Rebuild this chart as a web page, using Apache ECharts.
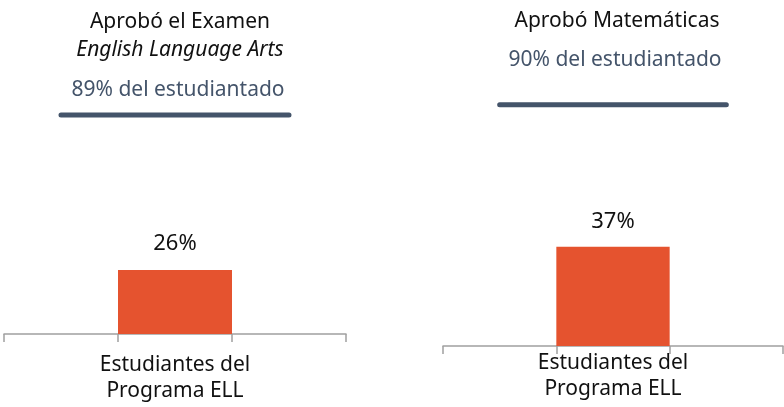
<!DOCTYPE html>
<html>
<head>
<meta charset="utf-8">
<script src="https://cdn.jsdelivr.net/npm/echarts@6/dist/echarts.min.js"></script>
<style>
html,body{margin:0;padding:0;background:#fff;}
#c{width:784px;height:407px;}
</style>
</head>
<body>
<div id="c"></div>
<script>
// Data
const categories = ['', 'Estudiantes del\nPrograma ELL', ''];
const panelTitles = ['Aprobó el Examen', 'Aprobó Matemáticas'];
const panelSubjects = ['English Language Arts', ''];
const allStudents = [89, 90];           // % del estudiantado
const ellValues = [26, 37];             // % Estudiantes del Programa ELL
const allLabels = ['89% del estudiantado', '90% del estudiantado'];

const FONT = 'Noto Sans';
const BAR = '#E5532F';
const SLATE = '#44546A';
const AXIS = '#A0A0A0';
const FS = 21;

const chart = echarts.init(document.getElementById('c'), null, {renderer: 'canvas'});

const grids = [
  {left: 4, width: 342, top: 88, bottom: 73},
  {left: 443, width: 340, top: 78, bottom: 61}
];
const labelMargins = [18, 4];
const labelDistances = [15, 14];

const xAxes = grids.map((g, i) => ({
  type: 'category', gridIndex: i, data: categories, boundaryGap: true,
  axisLine: {lineStyle: {color: AXIS, width: 1.5}},
  axisTick: {show: true, length: 8, lineStyle: {color: AXIS, width: 1.5}},
  axisLabel: {interval: 0, margin: labelMargins[i], color: '#111', fontFamily: FONT, fontSize: FS, lineHeight: 26}
}));
const yAxes = grids.map((g, i) => ({
  type: 'value', gridIndex: i, min: 0, max: 100, show: false, splitLine: {show: false}
}));

const series = [];
for (let i = 0; i < 2; i++) {
  series.push({
    type: 'bar', xAxisIndex: i, yAxisIndex: i,
    data: categories.map((c, k) => k === 1 ? ellValues[i] : null),
    barWidth: '100%', itemStyle: {color: BAR},
    label: {show: true, position: 'top', distance: labelDistances[i], formatter: '{c}%', color: '#111', fontFamily: FONT, fontSize: 22}
  });
  series.push({
    type: 'line', xAxisIndex: i, yAxisIndex: i,
    data: categories.map(() => allStudents[i]),
    symbol: 'none', lineStyle: {color: SLATE, width: 5, cap: 'round'}, z: 3
  });
}

const titles = [
  {text: panelTitles[0] + '\n{i|' + panelSubjects[0] + '}', left: 175, top: 3, textAlign: 'center',
   textStyle: {fontFamily: FONT, fontSize: FS, fontWeight: 'normal', color: '#111', lineHeight: 28,
     rich: {i: {fontFamily: FONT, fontSize: FS, fontStyle: 'italic', color: '#111', lineHeight: 28}}}},
  {text: allLabels[0], left: 173, top: 71, textAlign: 'center',
   textStyle: {fontFamily: FONT, fontSize: FS, fontWeight: 'normal', color: SLATE, lineHeight: 28}},
  {text: panelTitles[1], left: 612, top: 2, textAlign: 'center',
   textStyle: {fontFamily: FONT, fontSize: FS, fontWeight: 'normal', color: '#111', lineHeight: 28}},
  {text: allLabels[1], left: 610, top: 41, textAlign: 'center',
   textStyle: {fontFamily: FONT, fontSize: FS, fontWeight: 'normal', color: SLATE, lineHeight: 28}}
];

chart.setOption({
  animation: false,
  backgroundColor: '#fff',
  title: titles,
  grid: grids,
  xAxis: xAxes,
  yAxis: yAxes,
  series: series
});
</script>
</body>
</html>
